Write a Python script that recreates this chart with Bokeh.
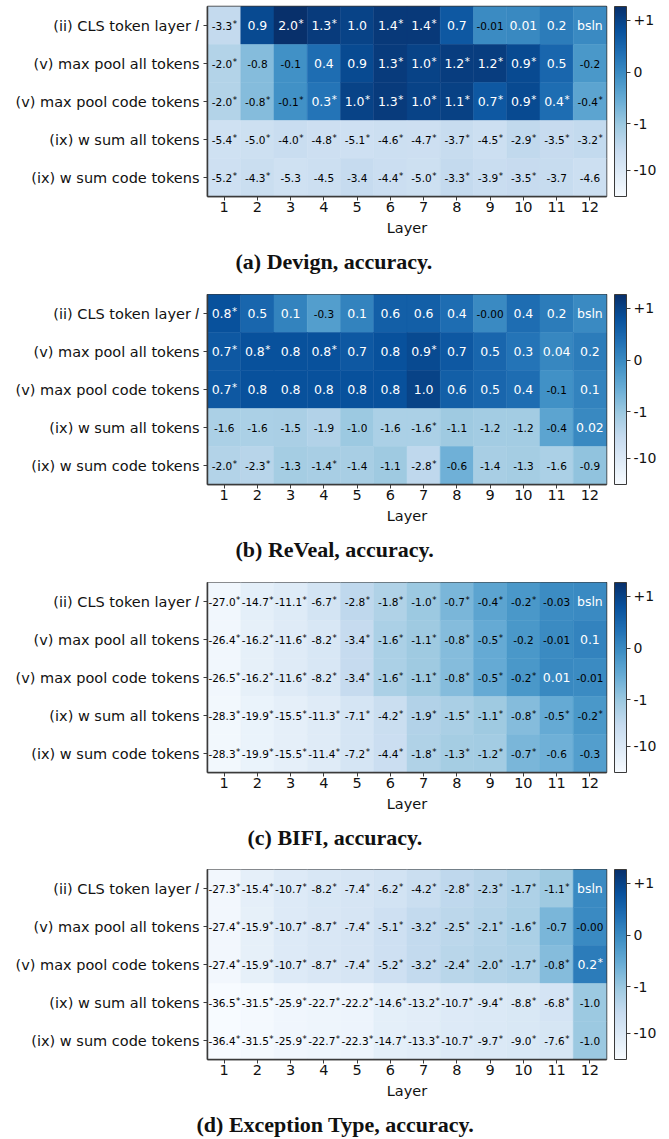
import math
from bokeh.plotting import figure
from bokeh.models import (ColumnDataSource, LinearColorMapper, ColorBar,
                          FixedTicker, Range1d, Title, AllLabels)
from bokeh.layouts import column
from bokeh.palettes import Blues256
from bokeh.core.properties import value
from bokeh.embed import file_html
from bokeh.resources import INLINE

# ---------------- data ----------------
layers = list(range(1, 13))
row_labels = ["(ii) CLS token layer \U0001D459", "(v) max pool all tokens",
              "(v) max pool code tokens", "(ix) w sum all tokens",
              "(ix) w sum code tokens"]

# None = baseline cell ("bsln")
devign_vals = [
    [-3.3, 0.9, 2.0, 1.3, 1.0, 1.4, 1.4, 0.7, -0.01, 0.01, 0.2, None],
    [-2.0, -0.8, -0.1, 0.4, 0.9, 1.3, 1.0, 1.2, 1.2, 0.9, 0.5, -0.2],
    [-2.0, -0.8, -0.1, 0.3, 1.0, 1.3, 1.0, 1.1, 0.7, 0.9, 0.4, -0.4],
    [-5.4, -5.0, -4.0, -4.8, -5.1, -4.6, -4.7, -3.7, -4.5, -2.9, -3.5, -3.2],
    [-5.2, -4.3, -5.3, -4.5, -3.4, -4.4, -5.0, -3.3, -3.9, -3.5, -3.7, -4.6],
]
devign_sig = [
    [1, 0, 1, 1, 0, 1, 1, 0, 0, 0, 0, 0],
    [1, 0, 0, 0, 0, 1, 1, 1, 1, 1, 0, 0],
    [1, 1, 1, 1, 1, 1, 1, 1, 1, 1, 1, 1],
    [1, 1, 1, 1, 1, 1, 1, 1, 1, 1, 1, 1],
    [1, 1, 0, 0, 0, 1, 1, 1, 1, 1, 0, 0],
]

reveal_vals = [
    [0.8, 0.5, 0.1, -0.3, 0.1, 0.6, 0.6, 0.4, -0.0, 0.4, 0.2, None],
    [0.7, 0.8, 0.8, 0.8, 0.7, 0.8, 0.9, 0.7, 0.5, 0.3, 0.04, 0.2],
    [0.7, 0.8, 0.8, 0.8, 0.8, 0.8, 1.0, 0.6, 0.5, 0.4, -0.1, 0.1],
    [-1.6, -1.6, -1.5, -1.9, -1.0, -1.6, -1.6, -1.1, -1.2, -1.2, -0.4, 0.02],
    [-2.0, -2.3, -1.3, -1.4, -1.4, -1.1, -2.8, -0.6, -1.4, -1.3, -1.6, -0.9],
]
reveal_sig = [
    [1, 0, 0, 0, 0, 0, 0, 0, 0, 0, 0, 0],
    [1, 1, 0, 1, 0, 0, 1, 0, 0, 0, 0, 0],
    [1, 0, 0, 0, 0, 0, 0, 0, 0, 0, 0, 0],
    [0, 0, 0, 0, 0, 0, 1, 0, 0, 0, 0, 0],
    [1, 1, 0, 1, 0, 0, 1, 0, 0, 0, 0, 0],
]

bifi_vals = [
    [-27.0, -14.7, -11.1, -6.7, -2.8, -1.8, -1.0, -0.7, -0.4, -0.2, -0.03, None],
    [-26.4, -16.2, -11.6, -8.2, -3.4, -1.6, -1.1, -0.8, -0.5, -0.2, -0.01, 0.1],
    [-26.5, -16.2, -11.6, -8.2, -3.4, -1.6, -1.1, -0.8, -0.5, -0.2, 0.01, -0.01],
    [-28.3, -19.9, -15.5, -11.3, -7.1, -4.2, -1.9, -1.5, -1.1, -0.8, -0.5, -0.2],
    [-28.3, -19.9, -15.5, -11.4, -7.2, -4.4, -1.8, -1.3, -1.2, -0.7, -0.6, -0.3],
]
bifi_sig = [
    [1, 1, 1, 1, 1, 1, 1, 1, 1, 1, 0, 0],
    [1, 1, 1, 1, 1, 1, 1, 1, 1, 0, 0, 0],
    [1, 1, 1, 1, 1, 1, 1, 1, 1, 1, 0, 0],
    [1, 1, 1, 1, 1, 1, 1, 1, 1, 1, 1, 1],
    [1, 1, 1, 1, 1, 1, 1, 1, 1, 1, 0, 0],
]

exc_vals = [
    [-27.3, -15.4, -10.7, -8.2, -7.4, -6.2, -4.2, -2.8, -2.3, -1.7, -1.1, None],
    [-27.4, -15.9, -10.7, -8.7, -7.4, -5.1, -3.2, -2.5, -2.1, -1.6, -0.7, -0.0],
    [-27.4, -15.9, -10.7, -8.7, -7.4, -5.2, -3.2, -2.4, -2.0, -1.7, -0.8, 0.2],
    [-36.5, -31.5, -25.9, -22.7, -22.2, -14.6, -13.2, -10.7, -9.4, -8.8, -6.8, -1.0],
    [-36.4, -31.5, -25.9, -22.7, -22.3, -14.7, -13.3, -10.7, -9.7, -9.0, -7.6, -1.0],
]
exc_sig = [
    [1, 1, 1, 1, 1, 1, 1, 1, 1, 1, 1, 0],
    [1, 1, 1, 1, 1, 1, 1, 1, 1, 1, 0, 0],
    [1, 1, 1, 1, 1, 1, 1, 1, 1, 1, 1, 1],
    [1, 1, 1, 1, 1, 1, 1, 1, 1, 1, 1, 0],
    [1, 1, 1, 1, 1, 1, 1, 1, 1, 1, 1, 0],
]

captions = ["(a) Devign, accuracy.", "(b) ReVeal, accuracy.",
            "(c) BIFI, accuracy.", "(d) Exception Type, accuracy."]

color_min, color_max = -36.5, 2.0
cbar_ticks = [1, 0, -1, -10]
cbar_labels = ["+1", "0", "-1", "-10"]

# ---------------- helpers ----------------
LIN = 1.0 / (1.0 - 0.1)   # symlog linear-scale factor (base 10, linthresh 1)


def symlog(x):
    if abs(x) <= 1.0:
        return x * LIN
    return math.copysign(LIN + math.log10(abs(x)), x)


FONT = "DejaVu Sans"
CAP_FONT = "Liberation Serif"
DARK = "#3a3a3a"

# approximate DejaVu Sans advance widths (em), used only to centre
# the number + superscript star pair in each cell
ADV = {"-": 0.361, ".": 0.318, "b": 0.635, "s": 0.521, "l": 0.278, "n": 0.634}
STAR_SCALE = 0.82

mapper = LinearColorMapper(palette=list(reversed(Blues256)),
                           low=symlog(color_min), high=symlog(color_max))


def fmt(v):
    if v is None:
        return "bsln"
    return f"{v:.2f}" if abs(v) < 0.095 else f"{v:.1f}"


def text_width(txt, size):
    return sum(ADV.get(ch, 0.636) for ch in txt) * size


def make_panel(vals, sig, caption, cap_offset, top, bottom):
    cells = dict(x=[], y=[], s=[])
    nums = dict(x=[], y=[], label=[], tcolor=[], tsize=[], xoff=[])
    stars = dict(x=[], y=[], tcolor=[], tsize=[], xoff=[])
    for r, (rowv, rows) in enumerate(zip(vals, sig)):
        for c, (v, s) in enumerate(zip(rowv, rows)):
            x = layers[c]
            cells["x"].append(x)
            cells["y"].append(r)
            cells["s"].append(symlog(0.0 if v is None else v))
            light = (v is None) or (v > 0)
            col = "white" if light else "black"
            size = 12.5 if light else 10.5
            lab = fmt(v)
            wn = text_width(lab, size)
            ssz = size * STAR_SCALE
            ws = 0.5 * ssz if s else 0.0
            left = -(wn + ws) / 2.0
            nums["x"].append(x)
            nums["y"].append(r)
            nums["label"].append(lab)
            nums["tcolor"].append(col)
            nums["tsize"].append(f"{size}px")
            nums["xoff"].append(left)
            if s:
                stars["x"].append(x)
                stars["y"].append(r)
                stars["tcolor"].append(col)
                stars["tsize"].append(f"{ssz:.1f}px")
                stars["xoff"].append(left + wn + 0.5)

    p = figure(frame_width=399, frame_height=190,
               x_range=Range1d(0.5, 12.5), y_range=Range1d(4.5, -0.5),
               output_backend="svg", toolbar_location=None, title=None,
               min_border_left=207, min_border_right=55,
               min_border_top=top, min_border_bottom=bottom)
    p.rect(x="x", y="y", width=1, height=1, source=ColumnDataSource(cells),
           fill_color={"field": "s", "transform": mapper},
           line_color={"field": "s", "transform": mapper}, line_width=0.5)
    p.text(x="x", y="y", text="label", source=ColumnDataSource(nums),
           text_color="tcolor", text_font_size="tsize", x_offset="xoff",
           text_align="left", text_baseline="middle", text_font=value(FONT))
    p.text(x="x", y="y", text=value("*"), source=ColumnDataSource(stars),
           text_color="tcolor", text_font_size="tsize", x_offset="xoff",
           y_offset=-2, text_align="left", text_baseline="middle",
           text_font=value(FONT))

    p.grid.visible = False
    p.outline_line_color = DARK
    p.outline_line_width = 1.5

    p.xaxis.ticker = FixedTicker(ticks=layers)
    p.xaxis.axis_label = "Layer"
    p.yaxis.ticker = FixedTicker(ticks=list(range(len(row_labels))))
    p.yaxis.major_label_overrides = {i: t for i, t in enumerate(row_labels)}
    for ax in (p.xaxis, p.yaxis):
        ax.axis_line_color = DARK
        ax.axis_line_width = 1.5
        ax.major_tick_in = 0
        ax.major_tick_out = 4
        ax.major_tick_line_color = DARK
        ax.minor_tick_line_color = None
        ax.major_label_text_font = FONT
        ax.major_label_text_font_size = "14.5px"
        ax.major_label_text_color = "#111111"
        ax.axis_label_text_font = FONT
        ax.axis_label_text_font_size = "14.5px"
        ax.axis_label_text_font_style = "normal"
        ax.axis_label_text_color = "#111111"
    p.xaxis.major_label_standoff = 1
    p.yaxis.major_label_standoff = 4
    p.xaxis.axis_label_standoff = 5

    cb = ColorBar(color_mapper=mapper,
                  ticker=FixedTicker(ticks=[symlog(t) for t in cbar_ticks]),
                  major_label_overrides={symlog(t): l for t, l in zip(cbar_ticks, cbar_labels)},
                  major_label_policy=AllLabels(),
                  location=(8, 0),
                  width=12, height=190, padding=0, margin=0,
                  bar_line_color=DARK, bar_line_width=1,
                  major_tick_in=0, major_tick_out=4,
                  major_tick_line_color=DARK, minor_tick_line_color=None,
                  major_label_text_font=FONT,
                  major_label_text_font_size="14px",
                  major_label_text_color="#111111",
                  label_standoff=3,
                  background_fill_color=None, border_line_color=None)
    p.add_layout(cb, "right")

    t = Title(text=caption, align="left", offset=cap_offset, standoff=17,
              text_font=CAP_FONT, text_font_style="bold",
              text_font_size="22px", text_color="#111111")
    p.add_layout(t, "below")
    return p


panels = [
    make_panel(devign_vals, devign_sig, captions[0], 28, 6, 98),
    make_panel(reveal_vals, reveal_sig, captions[1], 28, 0, 98),
    make_panel(bifi_vals, bifi_sig, captions[2], 40, 0, 97),
    make_panel(exc_vals, exc_sig, captions[3], -11, 0, 78),
]

layout = column(*panels, spacing=0)
open("out.html", "w").write(file_html(layout, INLINE))
